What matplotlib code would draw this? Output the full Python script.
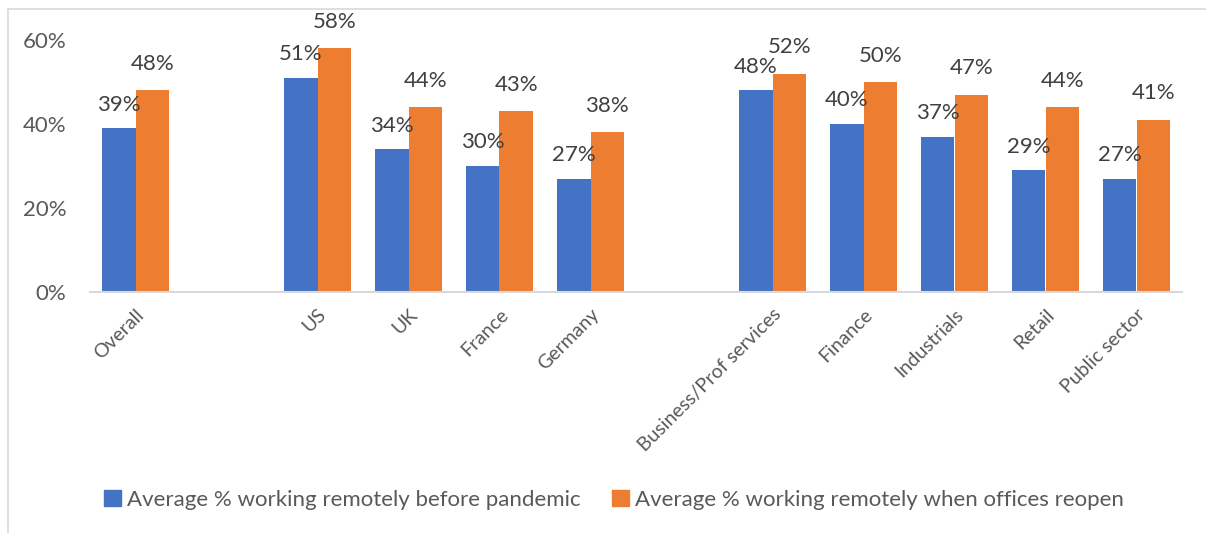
import numpy as np
import matplotlib.pyplot as plt
from matplotlib.lines import Line2D
from matplotlib.patches import Patch

plt.rcParams['font.family'] = ['Lato', 'DejaVu Sans']

# categories, with blank slots separating the groups
categories = ['Overall', '', 'US', 'UK', 'France', 'Germany', '',
              'Business/Prof services', 'Finance', 'Industrials', 'Retail', 'Public sector']
before = [39, None, 51, 34, 30, 27, None, 48, 40, 37, 29, 27]
reopen = [48, None, 58, 44, 43, 38, None, 52, 50, 47, 44, 41]
series_names = ['Average % working remotely before pandemic',
                'Average % working remotely when offices reopen']

BLUE = '#4472C4'
ORANGE = '#ED7D31'
TEXT = '#595959'
LABEL = '#404040'

fig = plt.figure(figsize=(12.06, 5.33), dpi=100)
ax = fig.add_axes([90 / 1206, (533 - 292) / 533, 1092 / 1206, 252 / 533])

x = np.arange(len(categories))
w = 0.37
for i in range(len(categories)):
    if before[i] is None:
        continue
    ax.bar(x[i] - w / 2, before[i], w, color=BLUE, edgecolor='none')
    ax.bar(x[i] + w / 2, reopen[i], w, color=ORANGE, edgecolor='none')
    ax.annotate(f'{before[i]}%', (x[i] - w / 2, before[i]), xytext=(0, 17),
                textcoords='offset points', ha='center', va='center',
                fontsize=16, color=LABEL)
    ax.annotate(f'{reopen[i]}%', (x[i] + w / 2, reopen[i]), xytext=(0, 19),
                textcoords='offset points', ha='center', va='center',
                fontsize=16, color=LABEL)

ax.set_xlim(-0.5, len(categories) - 0.5)
ax.set_ylim(0, 60)
ax.set_yticks([0, 20, 40, 60])
ax.set_yticklabels(['0%', '20%', '40%', '60%'], fontsize=16, color=TEXT)
ax.set_xticks(x)
ax.set_xticklabels(categories, rotation=45, ha='right', rotation_mode='anchor',
                   fontsize=14, color=TEXT)
ax.tick_params(axis='both', length=0)
ax.tick_params(axis='x', pad=10)
ax.tick_params(axis='y', pad=17)
for s in ['top', 'right', 'left']:
    ax.spines[s].set_visible(False)
ax.spines['bottom'].set_color('#D9D9D9')
ax.spines['bottom'].set_linewidth(1.5)

# outer chart border (cropped on the right and bottom)
fig.add_artist(Line2D([8 / 1206, 8 / 1206], [0, 1 - 9 / 533], transform=fig.transFigure,
                      color='#D9D9D9', lw=1.2))
fig.add_artist(Line2D([8 / 1206, 1], [1 - 9 / 533, 1 - 9 / 533], transform=fig.transFigure,
                      color='#D9D9D9', lw=1.2))

handles = [Patch(color=BLUE), Patch(color=ORANGE)]
fig.legend(handles, series_names, loc='center', bbox_to_anchor=(614 / 1206, 1 - 500 / 533),
           ncol=2, frameon=False, fontsize=16, handlelength=0.75, handleheight=0.75,
           handletextpad=0.3, columnspacing=1.4, labelcolor=TEXT)

fig.savefig('out.png', dpi=100)
